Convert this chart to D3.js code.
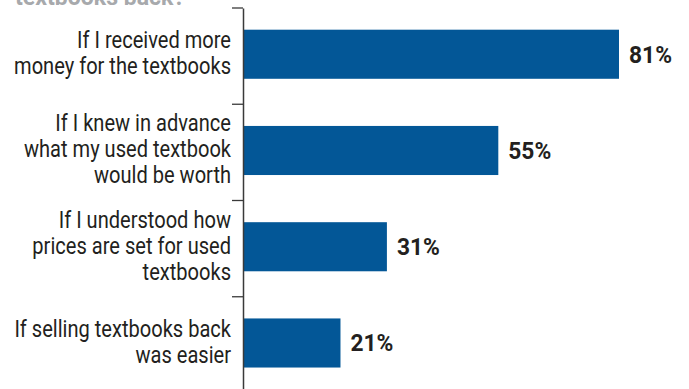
<!DOCTYPE html>
<html><head><meta charset="utf-8">
<script src="https://cdn.jsdelivr.net/npm/d3@7"></script>
<style>
html,body{margin:0;padding:0;background:#fff;overflow:hidden;}
text{font-family:Roboto,'Liberation Sans',sans-serif;}
</style></head>
<body><svg id="c" width="689" height="389"></svg>
<script>
const categories = [
  "If I received more money for the textbooks",
  "If I knew in advance what my used textbook would be worth",
  "If I understood how prices are set for used textbooks",
  "If selling textbooks back was easier"
];
const labelLines = [
  ["If I received more", "money for the textbooks"],
  ["If I knew in advance", "what my used textbook", "would be worth"],
  ["If I understood how", "prices are set for used", "textbooks"],
  ["If selling textbooks back", "was easier"]
];
const values = [81, 55, 31, 21];
const valueLabels = ["81%", "55%", "31%", "21%"];
const titleText = "textbooks back?";

const svg = d3.select("#c");
const x0 = 243;
const x = d3.scaleLinear().domain([0, 81]).range([x0, 619]);
const yBand = d3.scaleBand().domain(categories).range([8, 393]).padding(0);
const yBar = d3.scaleBand().domain(categories).range([8, 393])
  .paddingInner(0.49).paddingOuter(0.245).align(0.46);

// helper: measure text width to emulate a condensed face
function measure(str, size, weight) {
  const t = svg.append("text").attr("font-size", size).attr("font-weight", weight).text(str);
  const w = t.node().getComputedTextLength();
  t.remove();
  return w;
}
const labelSize = 23, valSize = 24.5, titleSize = 23;
const sLab = 217 / measure("money for the textbooks", labelSize, "normal");
const sVal = 43 / measure("55%", valSize, "bold");
const sTitle = 170 / measure(titleText, titleSize, "bold");

// title (cut off at top)
svg.append("text")
  .attr("transform", `translate(15,5) scale(${sTitle},1)`)
  .attr("fill", "#a7a9ac").attr("font-weight", "bold").attr("font-size", titleSize)
  .text(titleText);

// bars
svg.selectAll("rect.bar").data(categories).join("rect")
  .attr("class", "bar")
  .attr("x", x(0))
  .attr("y", d => yBar(d))
  .attr("width", (d, i) => x(values[i]) - x(0))
  .attr("height", yBar.bandwidth())
  .attr("fill", "#035797");

// axis
const axis = d3.axisLeft(yBand).tickSizeInner(11).tickSizeOuter(0).tickFormat("");
const g = svg.append("g").attr("transform", `translate(${x0},0)`).call(axis);
g.selectAll(".tick").attr("transform", d => `translate(0,${yBand(d)})`);
g.select(".domain").attr("stroke", "#3a3a3a").attr("stroke-width", 1.5);
g.selectAll(".tick line").attr("stroke", "#3a3a3a").attr("stroke-width", 1.3);

// category labels
const lh = 26;
categories.forEach((c, i) => {
  const lines = labelLines[i];
  const cy = yBar(c) + yBar.bandwidth() / 2;
  const t = svg.append("text")
    .attr("transform", `translate(231,0) scale(${sLab},1)`)
    .attr("text-anchor", "end").attr("font-size", labelSize).attr("fill", "#231f20");
  lines.forEach((ln, j) => {
    t.append("tspan").attr("x", 0)
      .attr("y", cy + (j - (lines.length - 1) / 2) * lh + 7)
      .text(ln);
  });
});

// value labels
svg.selectAll("text.val").data(categories).join("text")
  .attr("class", "val")
  .attr("transform", (d, i) => `translate(${x(values[i]) + 10},${yBar(d) + yBar.bandwidth() / 2 + 8.5}) scale(${sVal},1)`)
  .attr("font-size", valSize).attr("font-weight", "bold").attr("fill", "#231f20")
  .text((d, i) => valueLabels[i]);
</script></body></html>
